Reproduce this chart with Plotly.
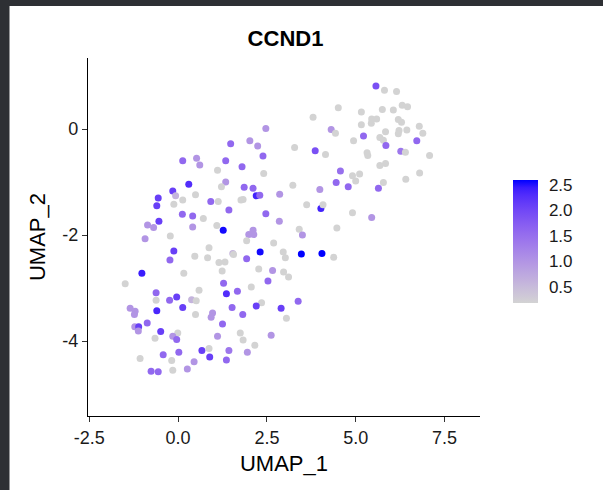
import plotly.graph_objects as go

# ---- data ----
umap_1 = [
    2.47, 1.48, 2.02, 2.24, 2.39, 0.13, 0.52, 0.61, 1.34, 1.80,
    1.11, 2.41, 0.30, 1.34, 1.22, 1.86, 2.11, 2.20, 2.30, -0.15,
    -0.07, -0.56, 0.13, 0.49, -0.60, -0.12, 0.92, 1.13, 1.77, 1.83,
    1.43, 2.86, 0.12, 0.41, 0.71, 2.47, -0.54, -0.86, -0.69, 0.41,
    1.09, 1.27, 2.85, -0.93, -0.22, 1.99, 2.11, 2.13, 1.93, 2.69,
    0.87, -0.12, 2.31, -0.23, 0.47, 0.83, 1.15, 1.32, 1.54, 1.56,
    1.93, -1.02, 0.16, 1.24, 2.27, 2.66, -1.49, 1.28, 2.53, -0.62,
    -0.62, 0.59, 1.36, 1.67, 2.06, -0.04, -0.24, 0.38, 0.51, 0.13,
    2.35, 2.20, 2.90, -1.35, -1.21, -1.23, -0.60, 0.49, 0.97, 0.93,
    1.52, 1.82, -0.87, -1.22, -1.11, -1.12, -0.49, -0.01, -0.15, -0.04,
    -0.65, 1.25, 1.11, 1.75, 1.83, 2.62, 2.16, 0.67, 0.87, 1.43,
    1.95, -0.42, 0.02, 0.89, -1.07, -0.18, 0.45, 1.36, -0.76, -0.56,
    -0.15, 0.26,
    5.57, 5.81, 6.15, 4.51, 3.80, 5.16, 5.75, 6.06, 6.31, 6.46,
    5.45, 5.59, 5.44, 5.16, 6.20, 6.29, 6.79, 4.31, 4.43, 5.84,
    6.22, 6.20, 6.44, 6.89, 5.22, 5.68, 5.78, 4.94, 6.72, 5.85,
    3.28, 3.86, 4.15, 6.27, 6.40, 5.32, 5.34, 7.08, 4.57, 5.68,
    5.84, 6.80, 4.91, 5.11, 5.00, 6.41, 5.78, 4.45, 4.79, 5.64,
    3.23, 3.99, 3.62, 4.02, 4.08, 4.91, 5.45, 3.41, 3.50, 4.47,
    2.96, 3.02, 3.47, 4.05, 4.38, 2.97, 3.11, 3.38, 3.05,
]
umap_2 = [
    0.01, -0.28, -0.22, -0.32, -0.51, -0.60, -0.55, -0.68, -0.60, -0.71,
    -0.78, -0.84, -1.04, -1.00, -1.09, -1.10, -1.12, -1.26, -1.25, -1.17,
    -1.26, -1.30, -1.34, -1.24, -1.45, -1.42, -1.37, -1.37, -1.34, -1.33,
    -1.53, -1.23, -1.61, -1.64, -1.69, -1.60, -1.74, -1.81, -1.86, -1.85,
    -1.82, -1.91, -1.74, -2.07, -2.02, -1.99, -1.91, -1.99, -2.11, -2.15,
    -2.24, -2.30, -2.32, -2.47, -2.40, -2.43, -2.52, -2.51, -2.35, -2.37,
    -2.45, -2.72, -2.72, -2.68, -2.64, -2.67, -2.92, -2.91, -2.87, -3.09,
    -3.23, -3.04, -3.11, -3.06, -2.98, -3.17, -3.23, -3.22, -3.24, -3.37,
    -3.28, -3.34, -3.38, -3.38, -3.44, -3.50, -3.43, -3.50, -3.47, -3.55,
    -3.37, -3.50, -3.66, -3.73, -3.73, -3.81, -3.82, -3.85, -3.91, -3.97,
    -3.95, -3.68, -3.91, -3.85, -3.98, -3.89, -4.08, -4.18, -4.14, -4.18,
    -4.21, -4.26, -4.21, -4.30, -4.33, -4.37, -4.39, -4.36, -4.57, -4.58,
    -4.55, -4.53,
    0.81, 0.73, 0.71, 0.40, 0.22, 0.32, 0.37, 0.36, 0.45, 0.42,
    0.19, 0.19, 0.11, 0.08, 0.18, 0.13, 0.05, -0.01, -0.08, -0.05,
    -0.03, -0.09, -0.02, -0.08, -0.13, -0.16, -0.21, -0.22, -0.22, -0.31,
    -0.35, -0.41, -0.48, -0.42, -0.44, -0.45, -0.50, -0.50, -0.79, -0.69,
    -0.65, -0.83, -0.88, -0.85, -0.98, -0.95, -1.01, -1.01, -1.09, -1.12,
    -1.06, -1.14, -1.43, -1.50, -1.43, -1.58, -1.67, -1.89, -2.00, -1.87,
    -2.32, -2.43, -2.36, -2.35, -2.42, -2.70, -2.79, -3.25, -3.57,
]
ccnd1 = [
    1.0, 1.6, 1.0, 1.0, 1.6, 1.6, 1.0, 1.0, 1.6, 1.6,
    0.2, 0.2, 2.3, 1.0, 0.2, 1.6, 1.6, 2.4, 1.6, 2.1,
    0.6, 2.1, 0.2, 0.2, 2.1, 0.2, 1.6, 0.2, 0.2, 0.2,
    1.6, 1.0, 1.6, 1.6, 0.2, 1.6, 2.1, 1.0, 1.0, 1.0,
    0.2, 2.55, 1.0, 1.0, 0.2, 1.0, 1.0, 1.0, 0.2, 0.2,
    0.2, 2.1, 2.55, 1.6, 0.2, 0.2, 0.2, 0.2, 0.6, 0.2,
    1.6, 2.45, 0.2, 0.2, 0.2, 1.0, 0.2, 1.6, 1.6, 1.6,
    0.2, 0.2, 2.3, 1.6, 0.2, 2.1, 1.6, 0.6, 0.2, 2.1,
    0.2, 2.1, 2.1, 1.0, 1.0, 1.0, 2.35, 0.2, 1.0, 1.0,
    1.6, 1.6, 1.6, 1.0, 2.1, 1.0, 2.1, 0.2, 1.0, 1.6,
    0.2, 1.6, 1.0, 0.2, 0.2, 1.0, 0.2, 2.1, 0.2, 1.4,
    1.0, 1.6, 1.6, 2.1, 0.2, 0.2, 1.0, 1.6, 1.6, 1.6,
    0.2, 1.0,
    1.9, 0.2, 0.2, 0.2, 0.2, 0.2, 0.2, 0.2, 0.2, 0.2,
    0.2, 0.2, 0.2, 0.2, 0.2, 0.2, 0.2, 1.0, 0.2, 0.2,
    0.2, 0.2, 0.2, 0.2, 1.6, 0.2, 0.2, 0.2, 1.6, 1.6,
    0.2, 1.9, 0.2, 1.4, 0.2, 0.2, 0.2, 0.2, 1.5, 0.2,
    0.2, 0.2, 0.2, 0.2, 0.2, 0.2, 0.2, 1.6, 1.6, 1.6,
    0.2, 1.0, 0.2, 2.4, 0.2, 0.2, 1.0, 0.2, 1.0, 0.2,
    0.2, 0.2, 2.6, 2.6, 0.2, 0.2, 0.2, 1.6, 0.2,
]
x_ticks = [-2.5, 0.0, 2.5, 5.0, 7.5]
x_tick_labels = ["-2.5", "0.0", "2.5", "5.0", "7.5"]
y_ticks = [0, -2, -4]
y_tick_labels = ["0", "-2", "-4"]
cbar_ticks = [0.5, 1.0, 1.5, 2.0, 2.5]
cbar_tick_labels = ["0.5", "1.0", "1.5", "2.0", "2.5"]
gene = "CCND1"

# ---- colour ramp lightgrey -> blue, interpolated in CIELAB like ggplot ----
M = [[0.4124564, 0.3575761, 0.1804375],
     [0.2126729, 0.7151522, 0.0721750],
     [0.0193339, 0.1191920, 0.9503041]]
MI = [[3.2404542, -1.5371385, -0.4985314],
      [-0.9692660, 1.8760108, 0.0415560],
      [0.0556434, -0.2040259, 1.0572252]]
WN = (0.95047, 1.0, 1.08883)


def to_lab(rgb):
    lin = []
    for c in rgb:
        c = c / 255
        lin.append(c / 12.92 if c <= 0.04045 else ((c + 0.055) / 1.055) ** 2.4)
    xyz = [sum(M[i][j] * lin[j] for j in range(3)) / WN[i] for i in range(3)]
    d = 6 / 29
    f = [t ** (1 / 3) if t > d ** 3 else t / (3 * d * d) + 4 / 29 for t in xyz]
    return (116 * f[1] - 16, 500 * (f[0] - f[1]), 200 * (f[1] - f[2]))


def from_lab(lab):
    L, a, b = lab
    fy = (L + 16) / 116
    fx = fy + a / 500
    fz = fy - b / 200
    d = 6 / 29
    xyz = [(t ** 3 if t > d else 3 * d * d * (t - 4 / 29)) * WN[i]
           for i, t in enumerate((fx, fy, fz))]
    out = []
    for i in range(3):
        c = sum(MI[i][j] * xyz[j] for j in range(3))
        c = 12.92 * c if c <= 0.0031308 else 1.055 * c ** (1 / 2.4) - 0.055
        out.append(int(round(min(max(c, 0), 1) * 255)))
    return "rgb(%d,%d,%d)" % tuple(out)


lab0 = to_lab((211, 211, 211))
lab1 = to_lab((0, 0, 255))
n = 16
colorscale = []
for k in range(n + 1):
    t = k / n
    colorscale.append([t, from_lab(tuple(lab0[i] + (lab1[i] - lab0[i]) * t for i in range(3)))])

fig = go.Figure()
fig.add_trace(go.Scatter(
    x=umap_1, y=umap_2, mode="markers",
    marker=dict(
        size=7, color=ccnd1, colorscale=colorscale, cmin=0.2, cmax=2.6,
        line=dict(width=0),
        colorbar=dict(
            thickness=25, len=143, lenmode="pixels", ypad=10, xpad=10,
            x=(503 - 88) / 392, xanchor="left", y=(416 - 241) / 358, yanchor="middle",
            outlinewidth=0, ticks="outside", ticklen=8, tickcolor="white",
            tickvals=cbar_ticks, ticktext=cbar_tick_labels,
            tickfont=dict(family="Liberation Sans, Arial", size=17, color="#1a1a1a"),
        ),
    ),
    showlegend=False,
))

axis_font = dict(family="Liberation Sans, Arial", size=18, color="#1a1a1a")
title_font = dict(family="Liberation Sans, Arial", size=22, color="#000000")

fig.update_layout(
    width=603, height=490,
    margin=dict(l=88, r=123, t=58, b=74),
    paper_bgcolor="white", plot_bgcolor="white",
    title=dict(text="<b>%s</b>" % gene, x=0.4735, xanchor="center",
               y=1 - 38 / 490, yanchor="middle", yref="container",
               font=dict(family="Liberation Sans, Arial", size=22, color="#000000")),
    xaxis=dict(range=[-2.537, 8.50], showgrid=False, zeroline=False,
               showline=True, linecolor="#000000", linewidth=1.2,
               ticks="outside", ticklen=5, tickcolor="#333333", tickwidth=1.2,
               tickvals=x_ticks, ticktext=x_tick_labels, tickfont=axis_font,
               title=dict(text="UMAP_1", font=title_font, standoff=8)),
    yaxis=dict(range=[-5.415, 1.34], showgrid=False, zeroline=False,
               showline=True, linecolor="#000000", linewidth=1.2,
               ticks="outside", ticklen=5, tickcolor="#333333", tickwidth=1.2,
               tickvals=y_ticks, ticktext=y_tick_labels, tickfont=axis_font,
               title=dict(text="UMAP_2", font=title_font, standoff=10)),
)

# dark screenshot frame on the top and left edges
frame = "#2e3034"
pw, ph = 392.0, 358.0
fig.add_shape(type="rect", xref="paper", yref="paper", layer="above",
              x0=-88 / pw, x1=(9.5 - 88) / pw, y0=(416 - 490) / ph, y1=416 / ph,
              fillcolor=frame, line=dict(width=0))
fig.add_shape(type="rect", xref="paper", yref="paper", layer="above",
              x0=-88 / pw, x1=(603 - 88) / pw, y0=(416 - 6) / ph, y1=416 / ph,
              fillcolor=frame, line=dict(width=0))

fig.write_html("out.html")
